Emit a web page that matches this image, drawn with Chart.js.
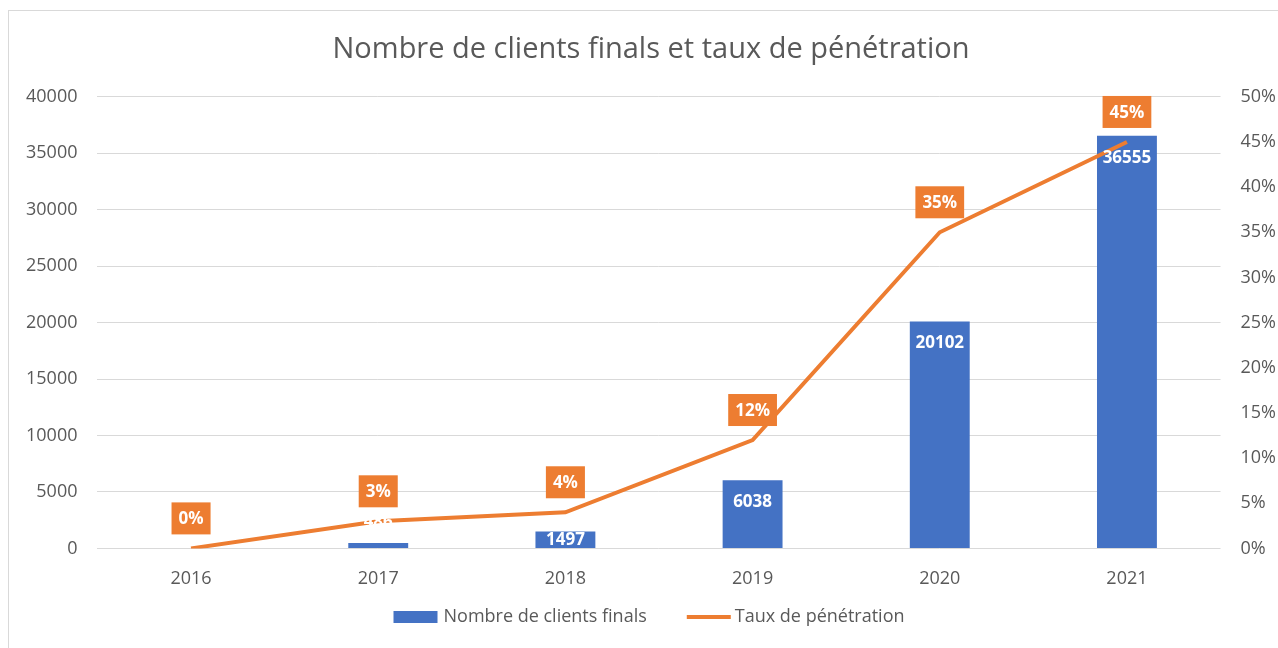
<!DOCTYPE html>
<html>
<head>
<meta charset="utf-8">
<script src="https://cdn.jsdelivr.net/npm/chart.js@4"></script>
<style>
    body { margin: 0; background: #fff; }
    #cadre { position: absolute; left: 8px; top: 10px; width: 1300px; height: 700px; border: 1px solid #d9d9d9; }
    #zone { position: absolute; left: 0; top: 0; width: 1278px; height: 648px; }
</style>
</head>
<body>
<div id="cadre"></div>
<div id="zone"><canvas id="graphique"></canvas></div>
<script>
// données
const annees = ['2016', '2017', '2018', '2019', '2020', '2021']
const clients = [0, 486, 1497, 6038, 20102, 36555]
const taux = [0, 3, 4, 12, 35, 45]

const police = "'Open Sans', sans-serif"
const gris = '#595959'
const bleu = '#4472C4'
const orange = '#ED7D31'

// étiquettes de données façon Excel
const etiquettes = {
    id: 'etiquettes',
    afterDatasetsDraw(chart) {
        const ctx = chart.ctx
        ctx.save()
        ctx.font = 'bold 17px ' + police
        ctx.textAlign = 'center'
        ctx.textBaseline = 'middle'

        const barres = chart.getDatasetMeta(0).data
        barres.forEach((b, i) => {
            if (!clients[i]) return
            const haut = b.base - b.y
            let y
            if (haut < 10) y = b.y - 21
            else y = Math.min(b.y + 22, (b.y + b.base) / 2)
            ctx.fillStyle = '#fff'
            ctx.fillText(clients[i], b.x, y)
        })

        const points = chart.getDatasetMeta(1).data
        points.forEach((p, i) => {
            const txt = taux[i] + '%'
            const w = ctx.measureText(txt).width + 14
            const h = 32
            const cy = p.y - 30
            ctx.fillStyle = orange
            ctx.fillRect(p.x - w / 2, cy - h / 2, w, h)
            ctx.fillStyle = '#fff'
            ctx.fillText(txt, p.x, cy + 1)
        })
        ctx.restore()
    }
}

// légende en bas, dessinée à la main pour garder l'espacement d'Excel
const legende = {
    id: 'legende',
    afterDraw(chart) {
        const ctx = chart.ctx
        const ds = chart.data.datasets
        ctx.save()
        ctx.font = '18px ' + police
        ctx.textBaseline = 'middle'
        ctx.fillStyle = gris
        const y = 617
        const l1 = ctx.measureText(ds[0].label).width
        const l2 = ctx.measureText(ds[1].label).width
        const total = 44 + 6 + l1 + 40 + 44 + 4 + l2
        let x = chart.width / 2 + 10 - total / 2

        ctx.fillStyle = ds[0].backgroundColor
        ctx.fillRect(x, y - 6, 44, 12)
        x += 50
        ctx.fillStyle = gris
        ctx.fillText(ds[0].label, x, y)
        x += l1 + 40

        ctx.strokeStyle = ds[1].borderColor
        ctx.lineWidth = 4
        ctx.beginPath()
        ctx.moveTo(x, y)
        ctx.lineTo(x + 44, y)
        ctx.stroke()
        x += 48
        ctx.fillText(ds[1].label, x, y)
        ctx.restore()
    }
}

new Chart(document.getElementById('graphique'), {
    type: 'bar',
    data: {
        labels: annees,
        datasets: [
            {
                type: 'bar',
                label: 'Nombre de clients finals',
                data: clients,
                backgroundColor: bleu,
                categoryPercentage: 1,
                barPercentage: 0.32,
                yAxisID: 'y',
                order: 1
            },
            {
                type: 'line',
                label: 'Taux de pénétration',
                data: taux,
                borderColor: orange,
                backgroundColor: orange,
                borderWidth: 4,
                pointRadius: 0,
                tension: 0,
                yAxisID: 'y1',
                order: 0
            }
        ]
    },
    options: {
        responsive: true,
        maintainAspectRatio: false,
        animation: false,
        layout: { padding: { left: 6, right: -18, top: 20, bottom: 46 } },
        plugins: {
            title: {
                display: true,
                text: 'Nombre de clients finals et taux de pénétration',
                color: gris,
                font: { family: police, size: 29, weight: 'normal' },
                padding: { top: 12, bottom: 30 }
            },
            legend: { display: false },
            tooltip: { enabled: false }
        },
        scales: {
            x: {
                grid: { display: false },
                border: { display: false },
                ticks: { color: gris, font: { family: police, size: 18 }, padding: 12 }
            },
            y: {
                position: 'left',
                min: 0,
                max: 40000,
                ticks: { stepSize: 5000, color: gris, font: { family: police, size: 18 }, padding: 20, callback: v => String(v) },
                grid: { color: '#d9d9d9', drawTicks: false },
                border: { display: false }
            },
            y1: {
                position: 'right',
                min: 0,
                max: 50,
                ticks: { stepSize: 5, color: gris, font: { family: police, size: 18 }, padding: 20, callback: v => v + '%' },
                grid: { display: false, drawTicks: false },
                border: { display: false }
            }
        }
    },
    plugins: [etiquettes, legende]
})
</script>
</body>
</html>
